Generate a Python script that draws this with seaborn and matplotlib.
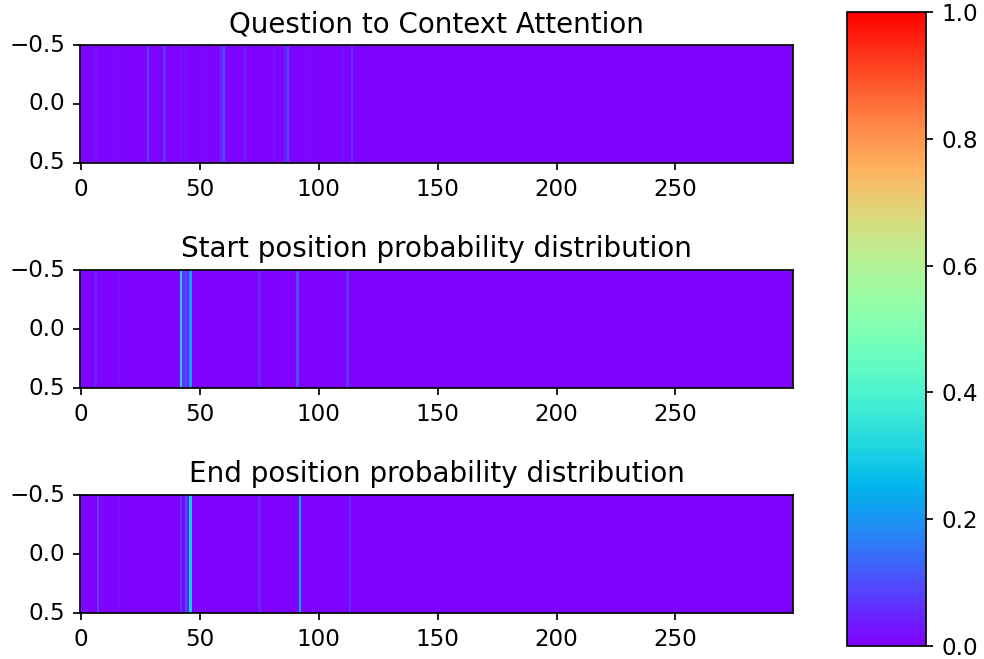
# attention / answer-span heatmaps drawn as three 1-row strips
import numpy as np
import matplotlib
matplotlib.use('Agg')
import matplotlib.pyplot as plt
import seaborn as sns

n_context = 300
x_tick_vals = [0, 50, 100, 150, 200, 250]
y_tick_vals = [-0.5, 0.0, 0.5]

titles = ['Question to Context Attention',
          'Start position probability distribution',
          'End position probability distribution']

# positions that stand out from the near-zero background
base_val = 0.004
q2c_idx = [6, 16, 28, 35, 42, 44, 51, 59, 60, 69, 81, 86, 87, 96, 110, 114]
q2c_val = [0.03, 0.015, 0.085, 0.07, 0.03, 0.02, 0.015, 0.05, 0.1, 0.045, 0.025, 0.04, 0.09, 0.015, 0.02, 0.07]
start_idx = [6, 16, 42, 43, 44, 45, 46, 75, 91, 112]
start_val = [0.04, 0.02, 0.3, 0.06, 0.1, 0.05, 0.22, 0.05, 0.1, 0.07]
end_idx = [7, 16, 42, 44, 45, 46, 75, 92, 113]
end_val = [0.08, 0.02, 0.07, 0.1, 0.05, 0.3, 0.05, 0.26, 0.06]


def build_row(idx, val):
    row = np.full(n_context, base_val)
    row[idx] = val
    return row.reshape(1, -1)


rows = [build_row(q2c_idx, q2c_val),
        build_row(start_idx, start_val),
        build_row(end_idx, end_val)]

plt.rcParams['font.size'] = 10.8
plt.rcParams['axes.titlesize'] = 13

dpi = 153.75
fig = plt.figure(figsize=(984 / dpi, 659 / dpi), dpi=dpi)

# axes boxes in figure fractions
strip_bottoms = [0.7527, 0.4112, 0.0698]
strip_h = 0.179
cax = fig.add_axes([0.8608, 0.0197, 0.0807, 0.9621])

for i, (row, title) in enumerate(zip(rows, titles)):
    ax = fig.add_axes([0.0813, strip_bottoms[i], 0.7246, strip_h])
    sns.heatmap(row, ax=ax, cmap='rainbow', vmin=0, vmax=1,
                cbar=(i == 0), cbar_ax=cax if i == 0 else None)
    ax.set_title(title)
    # imshow-like ticks: cell k spans k-0.5 .. k+0.5
    ax.set_xticks(np.array(x_tick_vals) + 0.5)
    ax.set_xticklabels([str(v) for v in x_tick_vals], rotation=0)
    ax.set_yticks(np.array(y_tick_vals) + 0.5)
    ax.set_yticklabels([f'{v:.1f}'.replace('-', '\u2212') for v in y_tick_vals], rotation=0)
    ax.tick_params(length=3.5, width=0.8)
    for sp in ax.spines.values():
        sp.set_visible(True)
        sp.set_linewidth(0.8)

cb = fig.axes[1].collections[0].colorbar
cb.outline.set_linewidth(0.8)
cb.outline.set_visible(True)
cb.set_ticks([0.0, 0.2, 0.4, 0.6, 0.8, 1.0])
cax.tick_params(length=3.5, width=0.8)

fig.savefig('out.png', dpi=dpi)
